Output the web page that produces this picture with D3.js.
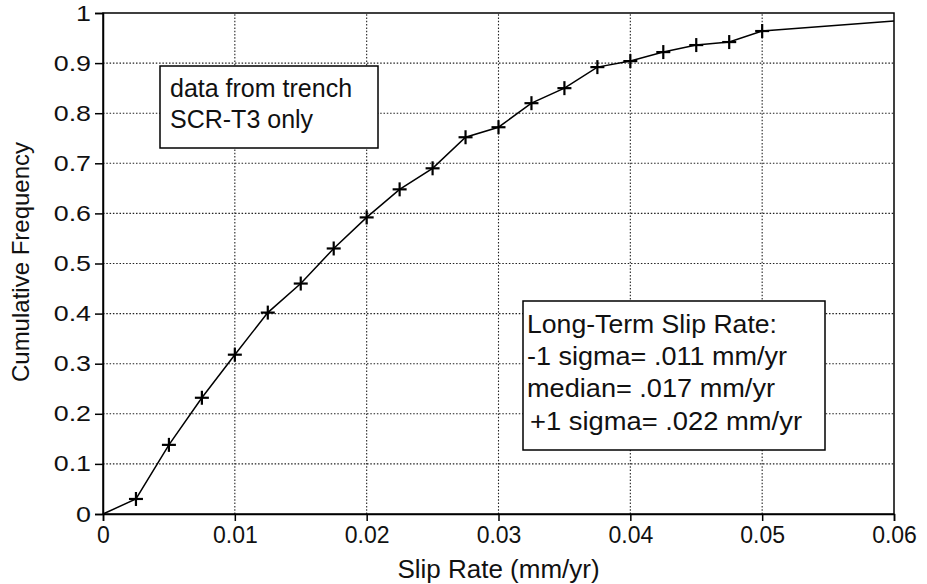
<!DOCTYPE html>
<html>
<head>
<meta charset="utf-8">
<script src="https://cdn.jsdelivr.net/npm/d3@7"></script>
<style>
  html, body { margin: 0; padding: 0; background: #fff; }
  svg { display: block; font-family: "Liberation Sans", Arial, Helvetica, sans-serif; }
</style>
</head>
<body>
<svg id="chart" width="927" height="584"></svg>
<script>
// ---- data ----
const slipRate = [0, 0.0025, 0.005, 0.0075, 0.01, 0.0125, 0.015, 0.0175, 0.02, 0.0225,
                  0.025, 0.0275, 0.03, 0.0325, 0.035, 0.0375, 0.04, 0.0425, 0.045, 0.0475, 0.05, 0.06];
const cumFreq  = [0, 0.03, 0.138, 0.232, 0.318, 0.402, 0.46, 0.53, 0.592, 0.648,
                  0.69, 0.752, 0.772, 0.82, 0.85, 0.892, 0.904, 0.922, 0.936, 0.942, 0.964, 0.984];
// markers drawn on these points (indices 1..20)
const markerIdx = d3.range(1, 21);
const xTicks = [0, 0.01, 0.02, 0.03, 0.04, 0.05, 0.06];
const xTickLabels = ["0", "0.01", "0.02", "0.03", "0.04", "0.05", "0.06"];
const yTicks = [0, 0.1, 0.2, 0.3, 0.4, 0.5, 0.6, 0.7, 0.8, 0.9, 1];
const yTickLabels = ["0", "0.1", "0.2", "0.3", "0.4", "0.5", "0.6", "0.7", "0.8", "0.9", "1"];
const note1 = ["data from trench", "SCR-T3 only"];
const note2 = ["Long-Term Slip Rate:", "-1 sigma= .011 mm/yr", "median= .017 mm/yr", "+1 sigma= .022 mm/yr"];

const svg = d3.select("#chart");
const W = 927, H = 584;
const m = {left: 103, right: 33, top: 13, bottom: 70};

const x = d3.scaleLinear().domain([0, 0.06]).range([m.left, W - m.right]);
const y = d3.scaleLinear().domain([0, 1]).range([H - m.bottom, m.top]);

// gridlines
const grid = svg.append("g").attr("stroke", "#222").attr("stroke-width", 1.1).attr("stroke-dasharray", "1.5,1.8");
grid.selectAll("line.gx").data(xTicks.slice(1, -1)).join("line")
  .attr("x1", d => x(d)).attr("x2", d => x(d)).attr("y1", y(0)).attr("y2", y(1));
grid.selectAll("line.gy").data(yTicks.slice(1, -1)).join("line")
  .attr("x1", x(0)).attr("x2", x(0.06)).attr("y1", d => y(d)).attr("y2", d => y(d));

// frame
svg.append("rect")
  .attr("x", x(0)).attr("y", y(1))
  .attr("width", x(0.06) - x(0)).attr("height", y(0) - y(1))
  .attr("fill", "none").attr("stroke", "#000").attr("stroke-width", 1.5);

// axes
const xAxis = svg.append("g").attr("transform", `translate(0,${y(0)})`)
  .call(d3.axisBottom(x).tickValues(xTicks).tickSize(7).tickPadding(6)
        .tickFormat((d, i) => xTickLabels[i]));
const yAxis = svg.append("g").attr("transform", `translate(${x(0)},0)`)
  .call(d3.axisLeft(y).tickValues(yTicks).tickSize(8).tickPadding(4)
        .tickFormat((d, i) => yTickLabels[i]));
[xAxis, yAxis].forEach(a => {
  a.select(".domain").attr("stroke", "#000").attr("stroke-width", 1.5);
  a.selectAll(".tick line").attr("stroke", "#000").attr("stroke-width", 1.5);
  a.selectAll(".tick text").attr("fill", "#111")
    .attr("font-family", "'Liberation Sans', Arial, sans-serif");
});
xAxis.selectAll(".tick text").attr("font-size", 23);
yAxis.selectAll(".tick text").attr("font-size", 22)
  .attr("transform", "scale(1.22,1)").attr("x", -12 / 1.22);

// line
const pts = slipRate.map((d, i) => [d, cumFreq[i]]);
svg.append("path").datum(pts)
  .attr("fill", "none").attr("stroke", "#000").attr("stroke-width", 1.5)
  .attr("d", d3.line().x(d => x(d[0])).y(d => y(d[1])));

// + markers
const mk = svg.append("g").attr("stroke", "#000").attr("stroke-width", 2.2);
markerIdx.forEach(i => {
  const cx = x(slipRate[i]), cy = y(cumFreq[i]);
  mk.append("line").attr("x1", cx - 7).attr("x2", cx + 7).attr("y1", cy).attr("y2", cy);
  mk.append("line").attr("x1", cx).attr("x2", cx).attr("y1", cy - 7).attr("y2", cy + 7);
});

// note boxes
function noteBox(x0, y0, w, h, lines, tx, baselines, fs, lengths) {
  const g = svg.append("g");
  g.append("rect").attr("x", x0).attr("y", y0).attr("width", w).attr("height", h)
    .attr("fill", "#fff").attr("stroke", "#000").attr("stroke-width", 1.5);
  const t = g.selectAll("text").data(lines).join("text")
    .attr("x", (d, i) => tx[i]).attr("y", (d, i) => baselines[i])
    .attr("font-size", fs).attr("fill", "#111").text(d => d);
  if (lengths) t.attr("textLength", (d, i) => lengths[i]).attr("lengthAdjust", "spacingAndGlyphs");
}
noteBox(160, 66, 218, 82, note1, [170, 170], [97, 128], 25, null);
noteBox(523, 301, 302, 149, note2, [527, 527, 527, 530], [333, 365, 397, 430], 25, [250, 260, 248, 272]);

// axis titles
svg.append("text").attr("x", x(0.03)).attr("y", 578).attr("text-anchor", "middle")
  .attr("font-size", 26).attr("fill", "#111").text("Slip Rate (mm/yr)");
svg.append("text").attr("transform", `translate(29,${262}) rotate(-90)`).attr("text-anchor", "middle")
  .attr("font-size", 24).attr("fill", "#111").text("Cumulative Frequency");
</script>
</body>
</html>
